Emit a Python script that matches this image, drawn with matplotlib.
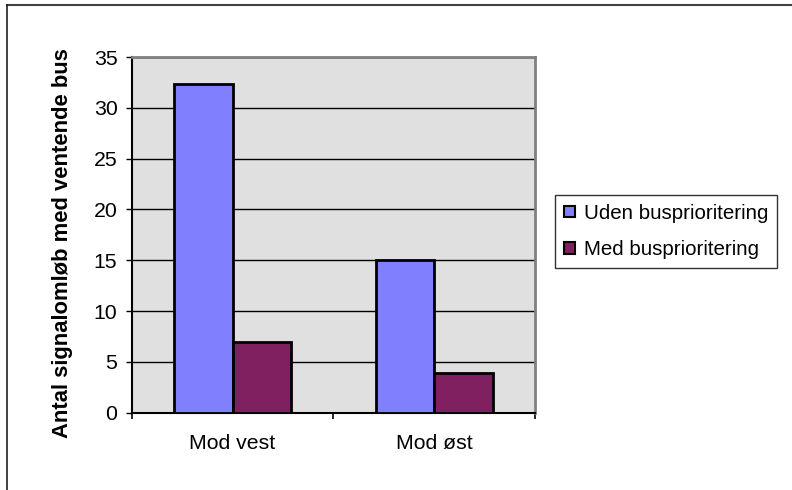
import matplotlib
matplotlib.use("Agg")
import matplotlib.pyplot as plt
import numpy as np
from matplotlib.lines import Line2D

categories = ["Mod vest", "Mod øst"]
series_names = ["Uden busprioritering", "Med busprioritering"]
uden = [32.3, 15.0]
med = [7.0, 3.9]
yticks = [0, 5, 10, 15, 20, 25, 30, 35]

plt.rcParams['font.family'] = ['Liberation Sans', 'DejaVu Sans']
FS = 15.3

W, H = 792, 490
fig = plt.figure(figsize=(W / 100, H / 100), dpi=100)
fig.patch.set_facecolor("white")

L, R, T, B = 131.7, 535.0, 57.0, 412.7
ax = fig.add_axes([L / W, 1 - B / H, (R - L) / W, (B - T) / H])
ax.set_facecolor("#e0e0e0")

x = np.arange(len(categories))
bw = 0.29
ax.bar(x - bw / 2, uden, bw, color="#8080ff", edgecolor="black", linewidth=2, label=series_names[0], zorder=3)
ax.bar(x + bw / 2, med, bw, color="#802060", edgecolor="black", linewidth=2, label=series_names[1], zorder=3)

ax.set_xlim(-0.5, 1.5)
ax.set_ylim(0, 35)
ax.set_yticks(yticks)
ax.set_yticklabels([str(v) for v in yticks], fontsize=FS)
ax.yaxis.grid(True, color="black", linewidth=1)
ax.set_axisbelow(True)
ax.tick_params(axis="y", direction="out", length=4.3, width=1, pad=6, colors="black")

ax.set_xticks(x)
ax.set_xticklabels(categories, fontsize=FS)
ax.tick_params(axis="x", which="major", length=0, pad=15)
ax.set_xticks([-0.5, 0.5, 1.5], minor=True)
ax.tick_params(axis="x", which="minor", direction="out", length=4.5, width=1.2, colors="black")

for s in ["left", "bottom"]:
    ax.spines[s].set_color("black")
    ax.spines[s].set_linewidth(1.5)
for s in ["top", "right"]:
    ax.spines[s].set_color("#808080")
    ax.spines[s].set_linewidth(2)

fig.text(63 / W, 1 - 243.5 / H, "Antal signalomløb med ventende bus", rotation=90,
         ha="center", va="center", fontsize=15.8, fontweight="bold")

leg = fig.legend(loc="center left", bbox_to_anchor=(555 / W, 1 - 231.5 / H),
                 fontsize=14.8, frameon=True, fancybox=False, shadow=False,
                 handlelength=0.5, handleheight=0.5, handletextpad=0.45,
                 labelspacing=0.85, borderpad=0.45, borderaxespad=0)
leg.get_frame().set_edgecolor("black")
leg.get_frame().set_linewidth(1)
for h in leg.legend_handles:
    h.set_linewidth(1.5)

# outer chart frame (top and left visible)
fig.add_artist(Line2D([6.5 / W, 1.0], [1 - 5.5 / H, 1 - 5.5 / H], color="#404040", linewidth=1.5, transform=fig.transFigure))
fig.add_artist(Line2D([6.5 / W, 6.5 / W], [1 - 5.5 / H, 0.0], color="#202020", linewidth=1.2, transform=fig.transFigure))

fig.savefig("out.png", dpi=100)
